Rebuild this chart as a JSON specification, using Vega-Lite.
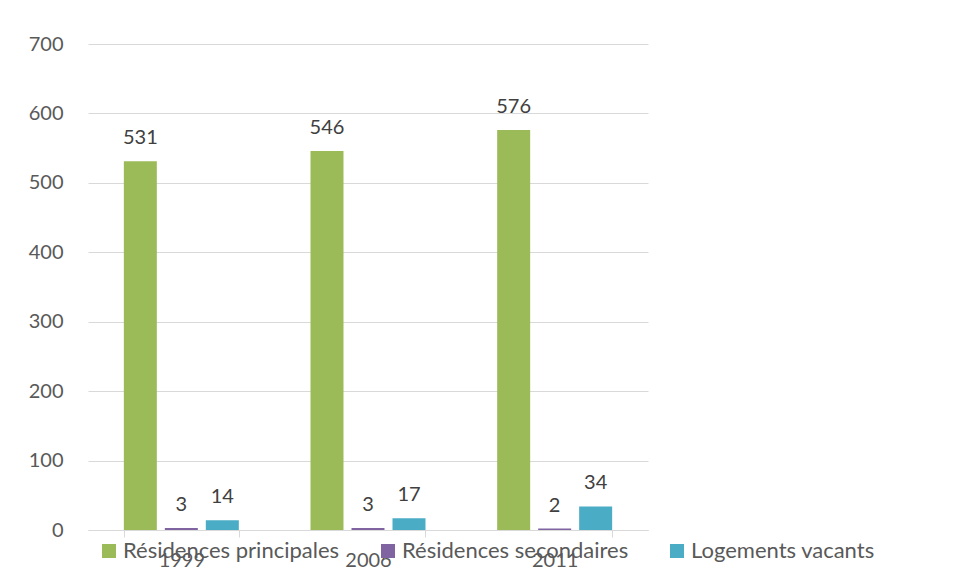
{
  "$schema": "https://vega.github.io/schema/vega-lite/v6.json",
  "autosize": "none",
  "width": 560,
  "height": 486,
  "padding": {"left": 88, "top": 44, "right": 307, "bottom": 53},
  "background": "white",
  "data": {"values": [
    {"annee": "1999", "type": "Résidences principales", "valeur": 531},
    {"annee": "1999", "type": "Résidences secondaires", "valeur": 3},
    {"annee": "1999", "type": "Logements vacants", "valeur": 14},
    {"annee": "2006", "type": "Résidences principales", "valeur": 546},
    {"annee": "2006", "type": "Résidences secondaires", "valeur": 3},
    {"annee": "2006", "type": "Logements vacants", "valeur": 17},
    {"annee": "2011", "type": "Résidences principales", "valeur": 576},
    {"annee": "2011", "type": "Résidences secondaires", "valeur": 2},
    {"annee": "2011", "type": "Logements vacants", "valeur": 34}
  ]},
  "encoding": {
    "x": {"field": "annee", "type": "nominal", "title": null,
      "scale": {"paddingInner": 0.384, "paddingOuter": 0.192},
      "axis": {"labelAngle": 0, "tickBand": "extent", "tickSize": 7, "tickColor": "#d9d9d9",
        "domainColor": "#d9d9d9", "labelPadding": 13, "labelFontSize": 20, "labelColor": "#595959",
        "labelFont": "Lato", "grid": false}},
    "xOffset": {"field": "type", "type": "nominal",
      "sort": ["Résidences principales", "Résidences secondaires", "Logements vacants"],
      "scale": {"paddingInner": 0.195, "paddingOuter": 0}},
    "y": {"field": "valeur", "type": "quantitative", "title": null,
      "scale": {"domain": [0, 700]},
      "axis": {"values": [0, 100, 200, 300, 400, 500, 600, 700], "ticks": false, "domain": false,
        "gridColor": "#d9d9d9", "labelPadding": 25, "labelFontSize": 20, "labelColor": "#595959", "labelFont": "Lato"}}
  },
  "layer": [
    {"mark": {"type": "bar"},
     "encoding": {
       "color": {"field": "type", "type": "nominal", "title": null,
         "scale": {"domain": ["Résidences principales", "Résidences secondaires", "Logements vacants"],
                   "range": ["#9BBB59", "#8064A2", "#4BACC6"]},
         "legend": {"orient": "none", "legendX": 10, "legendY": 496, "direction": "horizontal",
           "symbolType": "square", "symbolSize": 196, "symbolStrokeWidth": 0, "symbolOpacity": 1,
           "labelFontSize": 22, "labelFont": "Lato", "labelColor": "#595959", "labelLimit": 0,
           "columnPadding": 37, "labelOffset": 3}}
     }},
    {"mark": {"type": "text", "baseline": "middle", "dy": -23, "fontSize": 20, "font": "Lato", "color": "#404040"},
     "encoding": {"text": {"field": "valeur", "type": "quantitative"}}}
  ],
  "config": {"view": {"stroke": null}}
}
